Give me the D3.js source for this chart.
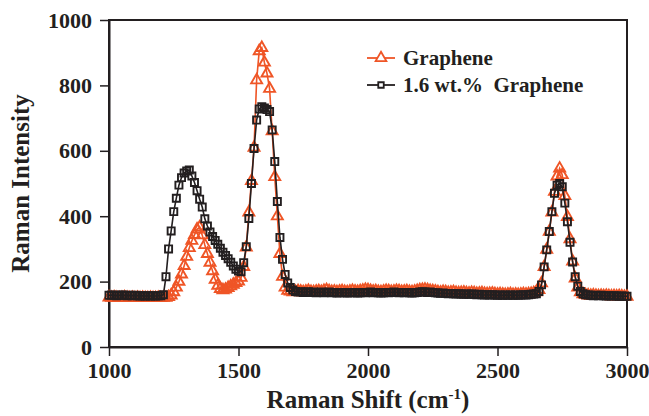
<!DOCTYPE html>
<html><head><meta charset="utf-8">
<script src="https://cdn.jsdelivr.net/npm/d3@7"></script>
<style>
body{margin:0;background:#fff}
svg{display:block}
text{font-family:"Liberation Serif","Times New Roman",serif;font-weight:bold;fill:#231f20}
</style>
</head><body>
<svg id="chart" width="649" height="416"></svg>
<script>
// Raman shift (cm-1)
const ramanShift = [1000,1010,1020,1030,1040,1050,1060,1070,1080,1090,1100,1110,1120,1130,1140,1150,1160,1170,1180,1190,
1200,1210,1220,1230,1240,1250,1260,1270,1280,1290,1300,1310,1320,1330,1340,1350,1360,1370,1380,1390,
1400,1410,1420,1430,1440,1450,1460,1470,1480,1490,1500,1510,1520,1530,1540,1550,1560,1570,1580,1590,
1600,1610,1620,1630,1640,1650,1660,1670,1680,1690,1700,1710,1720,1730,1740,1750,1760,1770,1780,1790,
1800,1810,1820,1830,1840,1850,1860,1870,1880,1890,1900,1910,1920,1930,1940,1950,1960,1970,1980,1990,
2000,2010,2020,2030,2040,2050,2060,2070,2080,2090,2100,2110,2120,2130,2140,2150,2160,2170,2180,2190,
2200,2210,2220,2230,2240,2250,2260,2270,2280,2290,2300,2310,2320,2330,2340,2350,2360,2370,2380,2390,
2400,2410,2420,2430,2440,2450,2460,2470,2480,2490,2500,2510,2520,2530,2540,2550,2560,2570,2580,2590,
2600,2610,2620,2630,2640,2650,2660,2670,2680,2690,2700,2710,2720,2730,2740,2750,2760,2770,2780,2790,
2800,2810,2820,2830,2840,2850,2860,2870,2880,2890,2900,2910,2920,2930,2940,2950,2960,2970,2980,2990,3000];

// "Graphene" series (orange triangles)
const graphene = [152,151,152,151,150,151,152,151,150,151,150,151,150,151,150,150,151,150,150,151,
150,151,151,153,158,168,182,200,222,248,276,303,325,343,360,366,342,312,285,258,
232,206,188,178,174,176,181,186,191,196,201,212,245,305,412,508,610,816,905,915,
870,837,790,660,520,400,285,215,182,172,170,168,169,171,170,168,170,172,169,168,
170,171,169,172,174,171,169,170,168,170,171,169,168,170,172,170,169,171,173,175,
174,172,170,171,169,168,170,172,171,169,170,172,171,169,170,171,169,168,170,172,
174,175,176,174,172,171,170,168,167,169,168,166,167,168,166,165,166,167,165,164,
166,165,163,164,165,163,162,163,164,162,161,162,161,160,161,162,160,161,160,161,
162,161,162,163,165,168,175,195,245,298,353,412,475,522,546,526,462,398,330,262,
210,182,168,162,159,158,157,158,157,156,157,156,157,156,155,156,155,156,155,154,154];

// "1.6 wt.% Graphene" series (black squares)
const composite = [158,159,158,157,158,159,158,157,158,157,158,157,156,157,156,157,156,157,156,157,
157,160,215,300,355,414,455,495,518,532,538,541,523,503,478,452,428,392,370,352,
338,326,314,302,290,280,270,259,248,238,232,230,258,307,393,500,607,694,728,735,
731,726,720,664,567,445,335,268,222,196,182,174,170,168,169,167,168,169,167,168,
166,167,168,166,167,168,166,167,165,166,167,166,165,166,167,166,165,166,167,166,
167,168,166,167,166,165,166,167,166,167,168,167,166,167,166,167,166,165,166,167,
168,169,168,167,168,167,166,165,164,165,164,163,164,163,162,163,162,161,162,161,
162,161,160,161,160,159,160,159,160,159,158,159,158,159,158,159,158,159,158,159,
160,159,160,161,162,163,170,190,245,297,353,414,470,495,500,490,440,383,320,260,
215,186,170,163,160,159,158,157,158,157,158,157,156,157,156,157,156,155,156,155,155];

const xTicks = [1000,1500,2000,2500,3000];
const yTicks = [0,200,400,600,800,1000];
const seriesNames = ["Graphene","1.6 wt.%\u00a0 Graphene"];
const seriesColors = ["#ef5526","#231f20"];

const svg = d3.select("#chart");
const pL=109,pR=627,pT=20,pB=347;
const x = d3.scaleLinear().domain([1000,3000]).range([pL,pR]);
const y = d3.scaleLinear().domain([0,1000]).range([pB,pT]);

// frame
svg.append("rect").attr("x",pL).attr("y",pT).attr("width",pR-pL).attr("height",pB-pT)
  .attr("fill","none").attr("stroke","#231f20").attr("stroke-width",2);

// axes
const xAxis = svg.append("g").attr("transform",`translate(0,${pB})`)
  .call(d3.axisBottom(x).tickValues(xTicks).tickFormat(d3.format("d")).tickSize(9).tickSizeOuter(0).tickPadding(6));
const yAxis = svg.append("g").attr("transform",`translate(${pL},0)`)
  .call(d3.axisLeft(y).tickValues(yTicks).tickFormat(d3.format("d")).tickSize(9).tickSizeOuter(0).tickPadding(8));
[xAxis,yAxis].forEach(g=>{
  g.select(".domain").attr("stroke","#231f20").attr("stroke-width",2);
  g.selectAll(".tick line").attr("stroke","#231f20").attr("stroke-width",1.5);
  g.selectAll(".tick text").style("font-size","22px").attr("fill","#231f20");
});

const data = [graphene, composite];
const symbols = [d3.symbolTriangle, d3.symbolSquare];
const symSizes = [52, 50];

data.forEach((vals,i)=>{
  const pts = ramanShift.map((r,j)=>[r,vals[j]]);
  svg.append("path").datum(pts)
    .attr("fill","none").attr("stroke",seriesColors[i]).attr("stroke-width",1.6)
    .attr("d", d3.line().x(d=>x(d[0])).y(d=>y(d[1])));
  svg.append("g").selectAll("path").data(pts).join("path")
    .attr("transform",d=>`translate(${x(d[0])},${y(d[1])})`)
    .attr("d", d3.symbol().type(symbols[i]).size(symSizes[i]))
    .attr("fill","none").attr("stroke",seriesColors[i]).attr("stroke-width",1.9);
});

// legend
const legY=[58,85];
seriesNames.forEach((name,i)=>{
  const g = svg.append("g");
  g.append("line").attr("x1",367).attr("x2",395).attr("y1",legY[i]).attr("y2",legY[i])
    .attr("stroke",seriesColors[i]).attr("stroke-width",1.8);
  g.append("path").attr("transform",`translate(381,${legY[i]})`)
    .attr("d", d3.symbol().type(symbols[i]).size(i===0?50:30))
    .attr("fill","#fff").attr("stroke",seriesColors[i]).attr("stroke-width",1.8);
  g.append("text").attr("x",403).attr("y",legY[i]+7).style("font-size","21px").text(name);
});

// axis titles
const xt = svg.append("text").attr("x",(pL+pR)/2).attr("y",408).attr("text-anchor","middle").style("font-size","25px");
xt.append("tspan").text("Raman Shift (cm");
xt.append("tspan").attr("dy",-9).style("font-size","15px").text("-1");
xt.append("tspan").attr("dy",9).text(")");

svg.append("text").attr("transform",`translate(29,${(pT+pB)/2}) rotate(-90)`)
  .attr("text-anchor","middle").style("font-size","25px").text("Raman Intensity");
</script>
</body></html>
